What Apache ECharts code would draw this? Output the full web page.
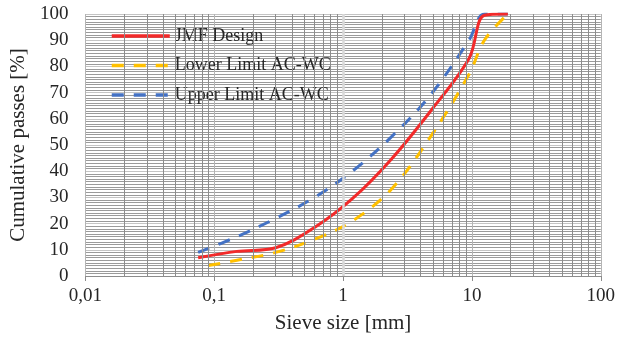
<!DOCTYPE html>
<html>
<head>
<meta charset="utf-8">
<script src="https://cdn.jsdelivr.net/npm/echarts@6/dist/echarts.min.js"></script>
<style>
  html, body { margin: 0; padding: 0; background: #fff; }
  #chart { width: 618px; height: 340px; }
</style>
</head>
<body>
<div id="chart"></div>
<script>
// sieve sizes [mm] and cumulative passing [%]
const sieveSizes = [0.075, 0.15, 0.3, 0.6, 1.18, 2.36, 4.75, 9.5, 12.5, 19];
const lowerSieveSizes = [0.09, 0.15, 0.3, 0.6, 1.18, 2.36, 4.75, 9.5, 12.5, 19];
const jmfDesign = [7, 9.4, 10.8, 18.5, 29.5, 44.5, 62.8, 83, 99.5, 100];
const lowerLimit = [4, 6, 9, 14, 21, 33, 53, 77, 90, 100];
const upperLimit = [9, 15, 22, 30, 40, 53, 69, 90, 100, 100];

// log-axis minor gridlines (2..9 in each decade)
const minorGridX = [
  0.02, 0.03, 0.04, 0.05, 0.06, 0.07, 0.08, 0.09,
  0.2, 0.3, 0.4, 0.5, 0.6, 0.7, 0.8, 0.9,
  2, 3, 4, 5, 6, 7, 8, 9,
  20, 30, 40, 50, 60, 70, 80, 90
];
const crossAxisAt = 1; // Excel puts the value axis at x = 1

const FONT = '"Liberation Serif", "Times New Roman", serif';
const TEXT = '#262626';

const pairs = (xs, ys) => xs.map((x, i) => [x, ys[i]]);

const chart = echarts.init(document.getElementById('chart'), null, { renderer: 'canvas' });

chart.setOption({
  animation: false,
  backgroundColor: '#fff',
  textStyle: { fontFamily: FONT, color: TEXT },
  grid: { left: 85, right: 15, top: 14, bottom: 64, containLabel: false },
  legend: {
    orient: 'vertical',
    left: 105,
    top: 22,
    itemWidth: 58,
    itemHeight: 14,
    itemGap: 11.5,
    // line-only legend keys, no marker dot
    itemStyle: { color: 'rgba(0,0,0,0)', borderWidth: 0, opacity: 0 },
    lineStyle: { width: 3.5 },
    textStyle: { fontFamily: FONT, fontSize: 18, color: TEXT },
    data: ['JMF Design', 'Lower Limit AC-WC', 'Upper Limit AC-WC']
  },
  xAxis: {
    type: 'log',
    logBase: 10,
    min: 0.01,
    max: 100,
    name: 'Sieve size [mm]',
    nameLocation: 'middle',
    nameGap: 37,
    nameTextStyle: { fontFamily: FONT, fontSize: 21, color: TEXT },
    axisLine: { show: true, lineStyle: { color: '#8c8c8c', width: 1 } },
    axisTick: { show: true, length: 5, lineStyle: { color: '#8c8c8c' } },
    axisLabel: {
      fontFamily: FONT, fontSize: 19, color: TEXT, margin: 11,
      formatter: v => String(v).replace('.', ',')
    },
    splitLine: { show: true, lineStyle: { color: '#b4b4b4', width: 1 } }
  },
  yAxis: {
    type: 'value',
    min: 0,
    max: 100,
    interval: 10,
    name: 'Cumulative passes [%]',
    nameLocation: 'middle',
    nameGap: 55,
    nameTextStyle: { fontFamily: FONT, fontSize: 21, color: TEXT },
    axisLine: { show: false },
    axisTick: { show: false },
    axisLabel: { fontFamily: FONT, fontSize: 19, color: TEXT, margin: 17 },
    splitLine: { show: true, lineStyle: { color: '#c4c4c4', width: 1 } },
    minorTick: { show: false, splitNumber: 10 },
    minorSplitLine: { show: true, lineStyle: { color: '#9a9a9a', width: 1 } }
  },
  series: [
    {
      // gridlines only: minor vertical lines + the light value-axis line at x = 1
      name: 'grid',
      type: 'line',
      data: [],
      silent: true,
      z: 1,
      markLine: {
        silent: true,
        symbol: 'none',
        label: { show: false },
        animation: false,
        data: minorGridX.map(x => ({ xAxis: x, lineStyle: { color: '#8c8c8c', width: 1, type: 'solid' } }))
          .concat([{ xAxis: crossAxisAt, lineStyle: { color: '#d9d9d9', width: 2.5, type: 'solid' } }])
      }
    },
    {
      name: 'Lower Limit AC-WC',
      type: 'line',
      smooth: 0.35,
      symbol: 'none',
      z: 3,
      data: pairs(lowerSieveSizes, lowerLimit),
      lineStyle: { color: '#ffc000', width: 3, type: [12, 10] },
      itemStyle: { color: '#ffc000' }
    },
    {
      name: 'Upper Limit AC-WC',
      type: 'line',
      smooth: 0.35,
      symbol: 'none',
      z: 3,
      data: pairs(sieveSizes, upperLimit),
      lineStyle: { color: '#4472c4', width: 3, type: [12, 10] },
      itemStyle: { color: '#4472c4' }
    },
    {
      name: 'JMF Design',
      type: 'line',
      smooth: 0.35,
      symbol: 'none',
      z: 4,
      data: pairs(sieveSizes, jmfDesign),
      lineStyle: { color: '#f22a2a', width: 3, type: 'solid' },
      itemStyle: { color: '#f22a2a' }
    }
  ]
});
</script>
</body>
</html>
